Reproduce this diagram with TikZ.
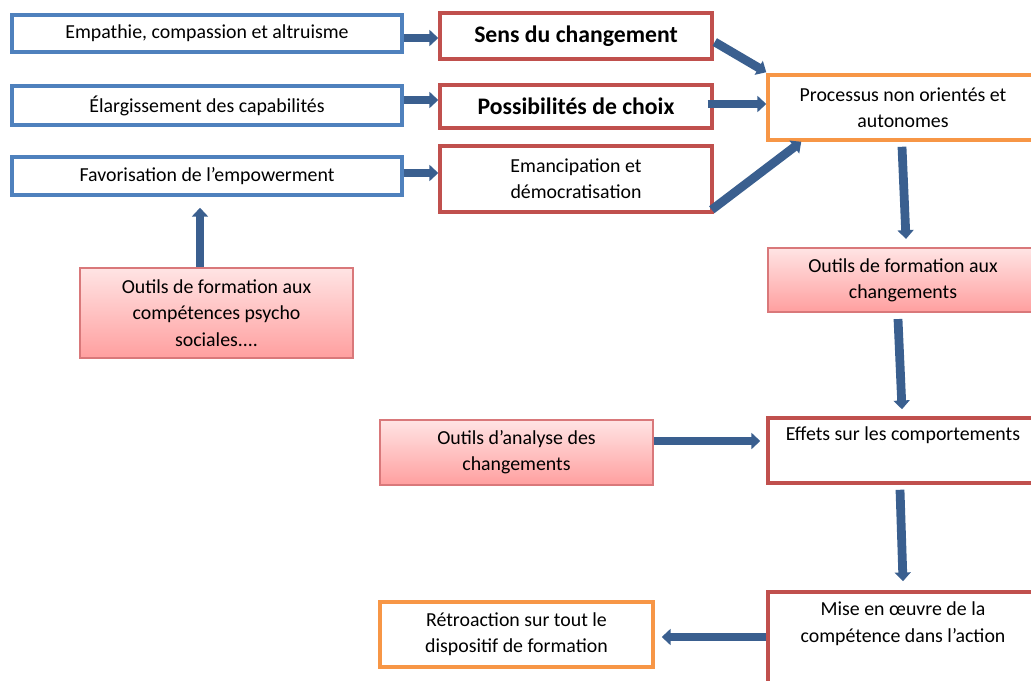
\documentclass[tikz,border=0pt]{standalone}
\usepackage{fontspec}
\setmainfont{Carlito}
\usetikzlibrary{arrows.meta,calc}

\definecolor{boxblue}{HTML}{4F81BD}
\definecolor{boxred}{HTML}{C0504D}
\definecolor{boxorange}{HTML}{F79646}
\definecolor{pinkline}{HTML}{D9787A}
\definecolor{pinktop}{HTML}{FFE4E4}
\definecolor{pinkbot}{HTML}{FF9F9F}
\definecolor{linkblue}{HTML}{3A5F8F}

\begin{document}
\begin{tikzpicture}
  [x=0.02cm,y=-0.02cm,
   every node/.style={font=\fontsize{11.3}{15}\selectfont,align=center,inner sep=2pt},
   bluebox/.style={draw=boxblue,line width=2pt,fill=white,minimum width=7.8cm},
   redbox/.style={draw=boxred,line width=2pt,fill=white,minimum width=5.44cm},
   orangebox/.style={draw=boxorange,line width=2pt,fill=white,minimum width=5.46cm},
   pinkbox/.style={draw=pinkline,line width=1.2pt,top color=pinktop,bottom color=pinkbot,minimum width=5.46cm},
   bigtext/.style={font=\fontsize{13.5}{16}\selectfont\bfseries},
   link/.style={linkblue,line width=5pt,-{Triangle[length=5pt,width=9pt]}}]

  \useasboundingbox (0,0) rectangle (1031,680);
  \clip (0,0) rectangle (1031,680);

  % left column
  \node[bluebox,minimum height=0.74cm] (b1) at (207,33.5) {Empathie, compassion et altruisme};
  \node[bluebox,minimum height=0.78cm] (b2) at (207,105.5) {Élargissement des capabilités};
  \node[bluebox,minimum height=0.76cm] (b3) at (207,176) {Favorisation de l’empowerment};
  \node[pinkbox,minimum height=1.8cm] (p1) at (216.5,313) {Outils de formation aux\\compétences psycho\\sociales....};

  % middle column
  \node[redbox,bigtext,minimum height=0.92cm] (r1) at (576,36) {Sens du changement};
  \node[redbox,bigtext,minimum height=0.86cm] (r2) at (576,106.5) {Possibilités de choix};
  \node[redbox,minimum height=1.32cm] (r3) at (576,179) {Emancipation et\\démocratisation};
  \node[pinkbox,minimum height=1.3cm] (p3) at (516.5,452.5) {Outils d’analyse des\\changements};
  \node[orangebox,minimum height=1.3cm] (o2) at (516.5,634.5) {Rétroaction sur tout le\\dispositif de formation};

  % right column
  \node[orangebox,minimum width=5.4cm,minimum height=1.3cm] (o1) at (903,107.5) {Processus non orientés et\\autonomes};
  \node[pinkbox,minimum width=5.4cm,minimum height=1.28cm] (p2) at (903,280) {Outils de formation aux\\changements};
  \node[redbox,minimum width=5.4cm,minimum height=1.3cm] (r4) at (903,450.5) {};
  \node[anchor=north] (r4t) at ($(r4.north)+(0,7)$) {Effets sur les comportements};
  \node[redbox,minimum width=5.4cm,minimum height=2.2cm] (r5) at (903,647) {};
  \node[anchor=north] (r5t) at ($(r5.north)+(0,8)$) {Mise en œuvre de la\\compétence dans l’action};

  % arrows
  \draw[link] ($(b1.east)+(0,4.5)$) -- ($(b1.east -| r1.west)+(0,4.5)$);
  \draw[link] ($(b2.east)+(0,-5.5)$) -- ($(b2.east -| r2.west)+(0,-5.5)$);
  \draw[link] ($(b3.east)+(0,-3)$) -- ($(b3.east -| r3.west)+(0,-3)$);
  \draw[link] ($(p1.north)+(-16.5,0)$) -- ($(b3.south)+(-7,11)$);
  \draw[link] ($(r1.east)+(1,6)$) -- ($(o1.north west)+(0,-1)$);
  \draw[link] ($(r2.east)+(-6,-2.5)$) -- ($(o1.west)+(0,-3.5)$);
  \draw[link] ($(r3.south east)+(-2,-4)$) -- ($(o1.south west)+(35,0)$);
  \draw[link] ($(o1.south)+(-1,5)$) -- ($(p2.north)+(3,-8)$);
  \draw[link] ($(p2.south)+(-5,6)$) -- ($(r4.north)+(-1,-7)$);
  \draw[link] ($(p3.east)+(0,-11.5)$) -- ($(r4.west)+(-6,-9.5)$);
  \draw[link] ($(r4.south)+(-3,5)$) -- ($(r5.north)+(0,-9)$);
  \draw[link] ($(r5.west)+(0,-10)$) -- ($(o2.east |- r5.west)+(7,-10)$);
\end{tikzpicture}
\end{document}
